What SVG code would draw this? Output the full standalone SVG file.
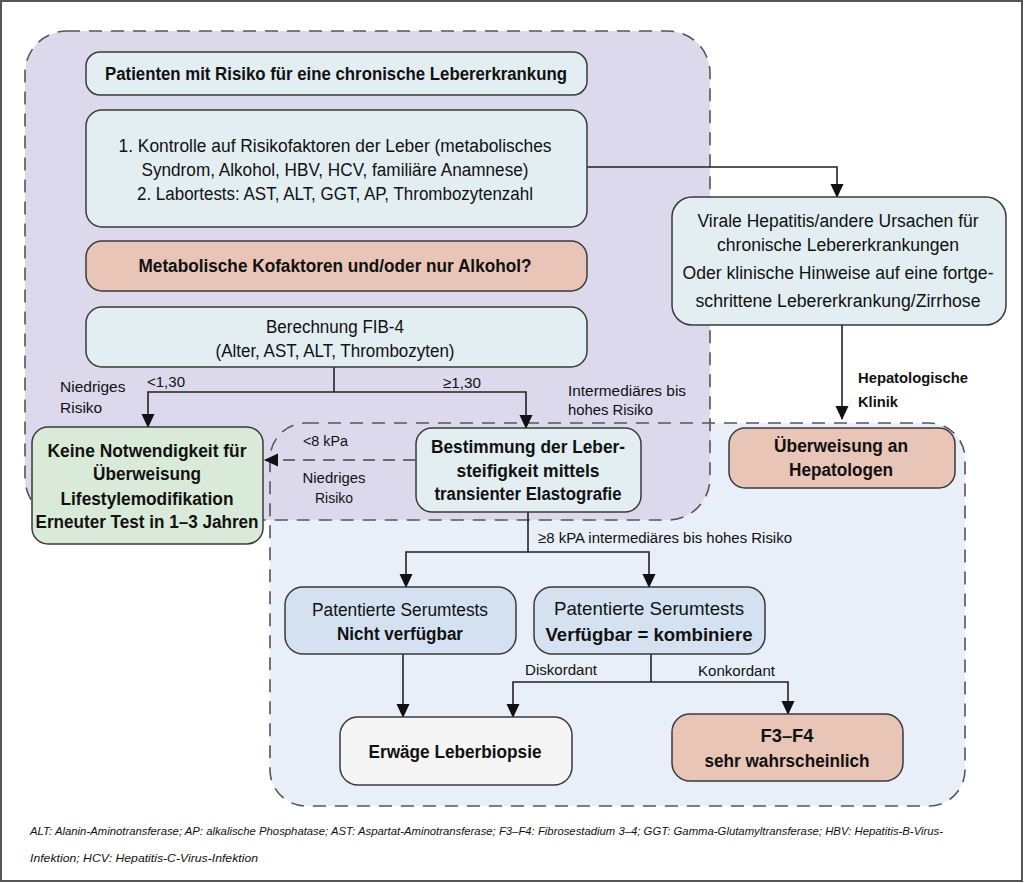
<svg xmlns="http://www.w3.org/2000/svg" width="1024" height="883" viewBox="0 0 1024 883">
<defs>
<marker id="ah" markerUnits="userSpaceOnUse" markerWidth="14" markerHeight="14" viewBox="0 0 14 14" refX="13" refY="7" orient="auto">
<path d="M0,0.5 L14,7 L0,13.5 Z" fill="#111"/>
</marker>
<style>
.frame{fill:#fff;stroke:#555;stroke-width:2}
.regP{fill:#dcd9ec;stroke:none}
.regB{fill:#e9eff8;stroke:none}
.dash{fill:none;stroke:#555;stroke-width:1.6;stroke-dasharray:13 9}
.box{stroke:#3a3a3a;stroke-width:1.5}
.lb{fill:#e3eef2}
.sal{fill:#e8c5b7}
.grn{fill:#d9ebd8}
.ser{fill:#d3e1f1}
.wht{fill:#f5f5f5}
.con{fill:none;stroke:#222;stroke-width:1.6}
.cond{fill:none;stroke:#444;stroke-width:1.6;stroke-dasharray:12 8}
text{font-family:"Liberation Sans",Arial,sans-serif;fill:#111}
.t{font-size:18px}
.b{font-size:18px;font-weight:bold}
.l{font-size:15.5px}
.lbd{font-size:15.5px;font-weight:bold}
.fn{font-size:11.5px;font-style:italic}
</style>
</defs>
<rect class="frame" x="1" y="1" width="1021" height="880"/>
<g id="regions">
<rect class="regB" x="270" y="423" width="695" height="383" rx="36"/>
<rect class="regP" x="25" y="31" width="685" height="489" rx="42"/>
<rect class="dash" x="25" y="31" width="685" height="489" rx="42"/>
<rect class="dash" x="270" y="423" width="695" height="383" rx="36"/>
</g>
<g id="connectors">
<path class="con" d="M587,167 H837 V197" marker-end="url(#ah)"/>
<path class="con" d="M334,367 V392"/>
<path class="con" d="M334,392 H148 V427" marker-end="url(#ah)"/>
<path class="con" d="M334,392 H526 V428" marker-end="url(#ah)"/>
<path class="cond" d="M415,460 H265" marker-end="url(#ah)"/>
<path class="con" d="M528,512 V552"/>
<path class="con" d="M528,552 H406 V587" marker-end="url(#ah)"/>
<path class="con" d="M528,552 H649 V587" marker-end="url(#ah)"/>
<path class="con" d="M403,654 V717" marker-end="url(#ah)"/>
<path class="con" d="M651,654 V682"/>
<path class="con" d="M651,682 H513 V717" marker-end="url(#ah)"/>
<path class="con" d="M651,682 H788 V714" marker-end="url(#ah)"/>
<path class="con" d="M842,325 V419" marker-end="url(#ah)"/>
</g>
<g id="labels">
<text class="l" x="60" y="392">Niedriges</text>
<text class="l" x="60" y="413">Risiko</text>
<text class="l" x="147" y="387" textLength="38" lengthAdjust="spacingAndGlyphs">&lt;1,30</text>
<text class="l" x="443" y="388" textLength="38" lengthAdjust="spacingAndGlyphs">≥1,30</text>
<text class="l" x="568" y="396" textLength="118" lengthAdjust="spacingAndGlyphs">Intermediäres bis</text>
<text class="l" x="568" y="415" textLength="85" lengthAdjust="spacingAndGlyphs">hohes Risiko</text>
<text class="l" x="303" y="446" textLength="45" lengthAdjust="spacingAndGlyphs">&lt;8 kPa</text>
<text class="l" x="334" y="483" text-anchor="middle" textLength="63" lengthAdjust="spacingAndGlyphs">Niedriges</text>
<text class="l" x="334" y="503" text-anchor="middle" textLength="38" lengthAdjust="spacingAndGlyphs">Risiko</text>
<text class="l" x="538" y="543" textLength="254" lengthAdjust="spacingAndGlyphs">≥8 kPA intermediäres bis hohes Risiko</text>
<text class="l" x="525" y="675" textLength="72" lengthAdjust="spacingAndGlyphs">Diskordant</text>
<text class="l" x="698" y="676" textLength="77" lengthAdjust="spacingAndGlyphs">Konkordant</text>
<text class="lbd" x="858" y="383" textLength="110" lengthAdjust="spacingAndGlyphs">Hepatologische</text>
<text class="lbd" x="858" y="407" textLength="40" lengthAdjust="spacingAndGlyphs">Klinik</text>
</g>
<g id="n1">
<rect class="box lb" x="86" y="52" width="501" height="43" rx="14"/>
<text class="b" x="336" y="80" text-anchor="middle" textLength="462" lengthAdjust="spacingAndGlyphs">Patienten mit Risiko für eine chronische Lebererkrankung</text>
</g>
<g id="n2">
<rect class="box lb" x="86" y="110" width="501" height="117" rx="16"/>
<text class="t" x="335" y="152" text-anchor="middle" textLength="433" lengthAdjust="spacingAndGlyphs">1. Kontrolle auf Risikofaktoren der Leber (metabolisches</text>
<text class="t" x="335" y="176" text-anchor="middle" textLength="387" lengthAdjust="spacingAndGlyphs">Syndrom, Alkohol, HBV, HCV, familiäre Anamnese)</text>
<text class="t" x="335" y="200" text-anchor="middle" textLength="396" lengthAdjust="spacingAndGlyphs">2. Labortests: AST, ALT, GGT, AP, Thrombozytenzahl</text>
</g>
<g id="n3">
<rect class="box sal" x="86" y="241" width="501" height="50" rx="16"/>
<text class="b" x="335" y="272" text-anchor="middle" textLength="393" lengthAdjust="spacingAndGlyphs">Metabolische Kofaktoren und/oder nur Alkohol?</text>
</g>
<g id="n4">
<rect class="box lb" x="86" y="307" width="501" height="60" rx="16"/>
<text class="t" x="335" y="333" text-anchor="middle" textLength="138" lengthAdjust="spacingAndGlyphs">Berechnung FIB-4</text>
<text class="t" x="335" y="357" text-anchor="middle" textLength="239" lengthAdjust="spacingAndGlyphs">(Alter, AST, ALT, Thrombozyten)</text>
</g>
<g id="n5">
<rect class="box grn" x="32" y="427" width="231" height="117" rx="16"/>
<text class="b" x="147" y="457" text-anchor="middle" textLength="199" lengthAdjust="spacingAndGlyphs">Keine Notwendigkeit für</text>
<text class="b" x="147" y="480" text-anchor="middle" textLength="108" lengthAdjust="spacingAndGlyphs">Überweisung</text>
<text class="b" x="147" y="505" text-anchor="middle" textLength="173" lengthAdjust="spacingAndGlyphs">Lifestylemodifikation</text>
<text class="b" x="147" y="528" text-anchor="middle" textLength="223" lengthAdjust="spacingAndGlyphs">Erneuter Test in 1–3 Jahren</text>
</g>
<g id="n6">
<rect class="box lb" x="416" y="428" width="225" height="84" rx="16"/>
<text class="b" x="528" y="453" text-anchor="middle" textLength="194" lengthAdjust="spacingAndGlyphs">Bestimmung der Leber-</text>
<text class="b" x="528" y="477" text-anchor="middle" textLength="143" lengthAdjust="spacingAndGlyphs">steifigkeit mittels</text>
<text class="b" x="528" y="500" text-anchor="middle" textLength="187" lengthAdjust="spacingAndGlyphs">transienter Elastografie</text>
</g>
<g id="n7">
<rect class="box lb" x="672" y="197" width="334" height="128" rx="20"/>
<text class="t" x="838" y="227" text-anchor="middle" textLength="281" lengthAdjust="spacingAndGlyphs">Virale Hepatitis/andere Ursachen für</text>
<text class="t" x="838" y="251" text-anchor="middle" textLength="242" lengthAdjust="spacingAndGlyphs">chronische Lebererkrankungen</text>
<text class="t" x="838" y="279" text-anchor="middle" textLength="311" lengthAdjust="spacingAndGlyphs">Oder klinische Hinweise auf eine fortge-</text>
<text class="t" x="838" y="307" text-anchor="middle" textLength="285" lengthAdjust="spacingAndGlyphs">schrittene Lebererkrankung/Zirrhose</text>
</g>
<g id="n8">
<rect class="box sal" x="729" y="428" width="226" height="60" rx="16"/>
<text class="b" x="841" y="452" text-anchor="middle" textLength="134" lengthAdjust="spacingAndGlyphs">Überweisung an</text>
<text class="b" x="841" y="476" text-anchor="middle" textLength="104" lengthAdjust="spacingAndGlyphs">Hepatologen</text>
</g>
<g id="n9">
<rect class="box ser" x="285" y="587" width="231" height="67" rx="18"/>
<text class="t" x="400" y="616" text-anchor="middle" textLength="176" lengthAdjust="spacingAndGlyphs">Patentierte Serumtests</text>
<text class="b" x="400" y="640" text-anchor="middle" textLength="126" lengthAdjust="spacingAndGlyphs">Nicht verfügbar</text>
</g>
<g id="n10">
<rect class="box ser" x="534" y="587" width="231" height="67" rx="18"/>
<text class="t" x="649" y="615" text-anchor="middle" style="font-size:19px" textLength="190" lengthAdjust="spacingAndGlyphs">Patentierte Serumtests</text>
<text class="b" x="649" y="641" text-anchor="middle" style="font-size:19px" textLength="207" lengthAdjust="spacingAndGlyphs">Verfügbar = kombiniere</text>
</g>
<g id="n11">
<rect class="box wht" x="340" y="717" width="232" height="68" rx="18"/>
<text class="b" x="455" y="758" text-anchor="middle" textLength="173" lengthAdjust="spacingAndGlyphs">Erwäge Leberbiopsie</text>
</g>
<g id="n12">
<rect class="box sal" x="672" y="714" width="231" height="67" rx="18"/>
<text class="b" x="787" y="742" text-anchor="middle" textLength="53" lengthAdjust="spacingAndGlyphs">F3–F4</text>
<text class="b" x="787" y="767" text-anchor="middle" textLength="165" lengthAdjust="spacingAndGlyphs">sehr wahrscheinlich</text>
</g>
<g id="footnote">
<text class="fn" x="30" y="835" textLength="913" lengthAdjust="spacingAndGlyphs">ALT: Alanin-Aminotransferase; AP: alkalische Phosphatase; AST: Aspartat-Aminotransferase; F3–F4: Fibrosestadium 3–4; GGT: Gamma-Glutamyltransferase; HBV: Hepatitis-B-Virus-</text>
<text class="fn" x="30" y="862" textLength="228" lengthAdjust="spacingAndGlyphs">Infektion; HCV: Hepatitis-C-Virus-Infektion</text>
</g>
</svg>
